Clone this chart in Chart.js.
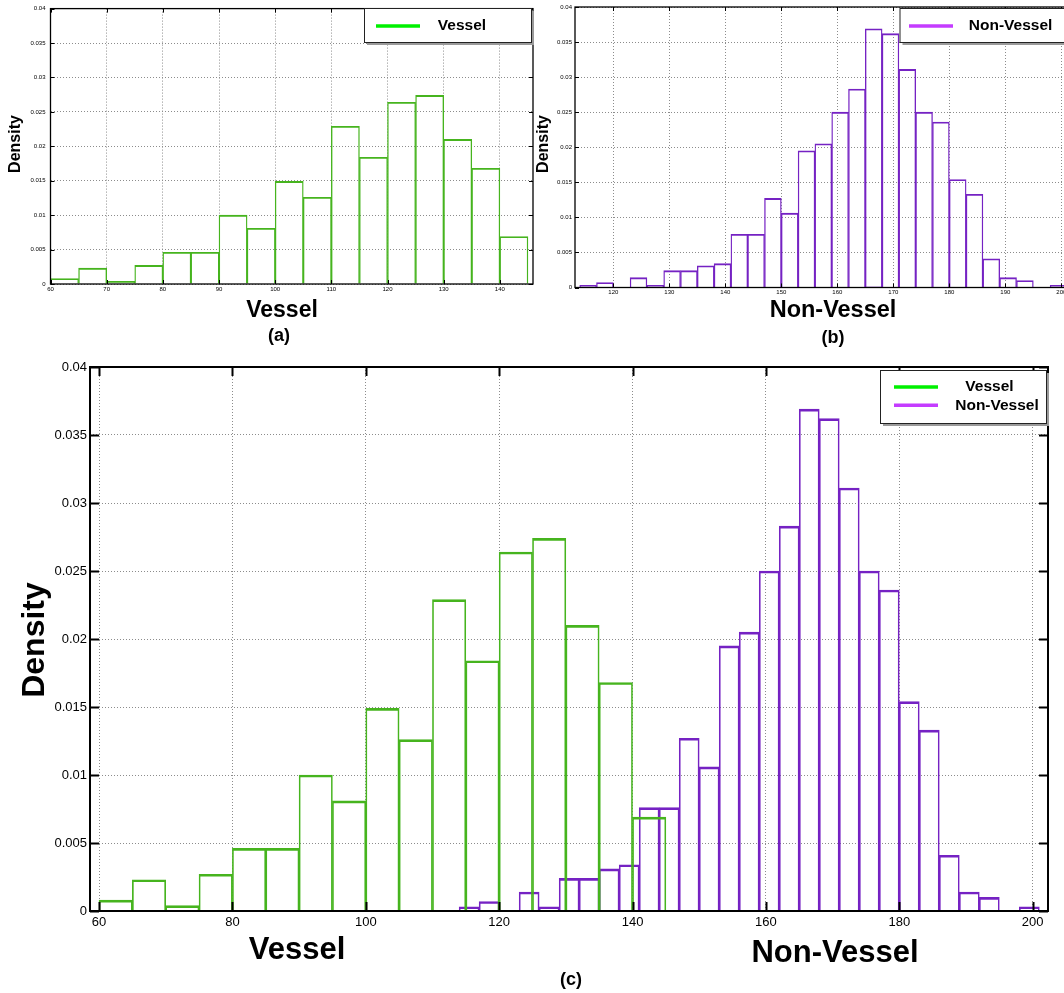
<!DOCTYPE html>
<html>
<head>
<meta charset="utf-8">
<title>Vessel / Non-Vessel density</title>
<script src="https://cdn.jsdelivr.net/npm/chart.js@4.4.1/dist/chart.umd.min.js"></script>
<style>
  html, body { margin: 0; padding: 0; background: #fff; overflow: hidden; }
  #page { position: relative; width: 1064px; height: 993px; overflow: hidden; }
  canvas { position: absolute; }
</style>
</head>
<body>
<div id="page">
  <canvas id="chartA" width="536" height="348" style="left:0;top:0"></canvas>
  <canvas id="chartB" width="545" height="348" style="left:530px;top:0"></canvas>
  <canvas id="chartC" width="1064" height="648" style="left:0;top:345px"></canvas>
</div>
<script>
// histogram data (bin start, density)
const vesselBinWidth = 5;
const vesselStarts = [60, 65, 70, 75, 80, 85, 90, 95, 100, 105, 110, 115, 120, 125, 130, 135, 140];
const vesselDensity = [0.0008, 0.0023, 0.0004, 0.0027, 0.0046, 0.0046, 0.0100, 0.0081, 0.0149, 0.0126,
                       0.0229, 0.0184, 0.0264, 0.0274, 0.0210, 0.0168, 0.0069];

const nonVesselBinWidth = 3;
const nonVesselStarts = [114, 117, 120, 123, 126, 129, 132, 135, 138, 141, 144, 147, 150, 153, 156,
                         159, 162, 165, 168, 171, 174, 177, 180, 183, 186, 189, 192, 195, 198];
const nonVesselDensity = [0.0003, 0.0007, 0, 0.0014, 0.0003, 0.0024, 0.0024, 0.0031, 0.0034, 0.0076,
                          0.0076, 0.0127, 0.0106, 0.0195, 0.0205, 0.0250, 0.0283, 0.0369, 0.0362, 0.0311,
                          0.0250, 0.0236, 0.0154, 0.0133, 0.0041, 0.0014, 0.0010, 0, 0.0003];

const yTicks = [0, 0.005, 0.01, 0.015, 0.02, 0.025, 0.03, 0.035, 0.04];
const xTicksA = [60, 70, 80, 90, 100, 110, 120, 130, 140];
const xTicksB = [120, 130, 140, 150, 160, 170, 180, 190, 200];
const xTicksC = [60, 80, 100, 120, 140, 160, 180, 200];

const FONT = '"Liberation Sans", Arial, Helvetica, sans-serif';
const GREEN = '#46b41e';
const PURPLE = '#7522c3';
const GREEN_KEY = '#00f000';
const PURPLE_KEY = '#c43bff';

function toPoints(starts, vals, w) {
  return starts.map((s, i) => ({x: s + w / 2, y: vals[i]}));
}

function xScale(min, max, ticks, fontSize, pad, h, show) {
  return {
    type: 'linear', min: min, max: max, offset: false, display: show,
    afterBuildTicks: s => { s.ticks = ticks.map(v => ({value: v})); },
    afterFit: s => { if (h) s.height = h; },
    grid: {color: '#8c8c8c', drawTicks: false, offset: false},
    border: {display: false, dash: [1, 2]},
    ticks: {autoSkip: false, maxRotation: 0, padding: pad, color: '#000',
            font: {family: FONT, size: fontSize}, callback: v => String(v)}
  };
}

function yScale(fontSize, pad, w) {
  return {
    type: 'linear', min: 0, max: 0.04,
    afterBuildTicks: s => { s.ticks = yTicks.map(v => ({value: v})); },
    afterFit: s => { s.width = w; },
    grid: {color: '#8c8c8c', drawTicks: false},
    border: {display: false, dash: [1, 2]},
    ticks: {autoSkip: false, padding: pad, color: '#000',
            font: {family: FONT, size: fontSize}, callback: v => String(+v.toFixed(4))}
  };
}

// frame, inward ticks, legend box and the text labels
function decor(cfg) {
  return {
    id: 'decor',
    afterDraw(chart) {
      const ctx = chart.ctx, a = chart.chartArea;
      const xs = chart.scales.x, ys = chart.scales.y;
      ctx.save();
      ctx.strokeStyle = '#000';
      ctx.lineWidth = cfg.tickWidth;
      ctx.beginPath();
      xs.ticks.forEach(t => {
        const p = Math.round(xs.getPixelForValue(t.value)) + 0.5;
        ctx.moveTo(p, a.bottom); ctx.lineTo(p, a.bottom - cfg.tickLen);
        ctx.moveTo(p, a.top); ctx.lineTo(p, a.top + cfg.tickLen);
      });
      ys.ticks.forEach(t => {
        const p = Math.round(ys.getPixelForValue(t.value)) + 0.5;
        ctx.moveTo(a.left, p); ctx.lineTo(a.left + cfg.tickLen, p);
        ctx.moveTo(a.right, p); ctx.lineTo(a.right - cfg.tickLen, p);
      });
      ctx.stroke();
      ctx.lineWidth = cfg.frameWidth;
      ctx.strokeRect(a.left, a.top, a.right - a.left, a.bottom - a.top);

      const L = cfg.legend;
      ctx.fillStyle = '#9a9a9a';
      ctx.fillRect(L.x + 3, L.y + 3, L.w, L.h);
      ctx.fillStyle = '#fff';
      ctx.fillRect(L.x, L.y, L.w, L.h);
      ctx.lineWidth = 1;
      ctx.strokeStyle = '#222';
      ctx.strokeRect(L.x + 0.5, L.y + 0.5, L.w, L.h);
      ctx.font = 'bold ' + L.size + 'px ' + FONT;
      ctx.textBaseline = 'middle';
      ctx.textAlign = 'center';
      L.rows.forEach(r => {
        ctx.strokeStyle = r.color;
        ctx.lineWidth = 3.5;
        ctx.beginPath();
        ctx.moveTo(L.lx0, r.y); ctx.lineTo(L.lx1, r.y);
        ctx.stroke();
        ctx.fillStyle = '#000';
        ctx.fillText(chart.data.datasets[r.ds].label, r.tx, r.y);
      });

      ctx.fillStyle = '#000';
      cfg.texts.forEach(t => {
        ctx.save();
        ctx.font = 'bold ' + t.size + 'px ' + FONT;
        ctx.translate(t.x, t.y);
        if (t.rot) ctx.rotate(-Math.PI / 2);
        ctx.fillText(t.text, 0, 0);
        ctx.restore();
      });
      ctx.restore();
    }
  };
}

const common = {
  responsive: false,
  animation: false,
  devicePixelRatio: 1,
  plugins: {legend: {display: false}, tooltip: {enabled: false}}
};

// (a) Vessel
new Chart(document.getElementById('chartA'), {
  type: 'bar',
  data: {
    datasets: [{
      label: 'Vessel',
      data: toPoints(vesselStarts, vesselDensity, vesselBinWidth),
      backgroundColor: 'rgba(0,0,0,0)',
      borderColor: GREEN,
      borderWidth: {top: 1.2, left: 0.7, right: 0.7, bottom: 0},
      barPercentage: 1, categoryPercentage: 1, grouped: false
    }]
  },
  options: Object.assign({}, common, {
    layout: {padding: {left: 0, top: 8, right: 3, bottom: 0}},
    scales: {x: xScale(60, 145.9, xTicksA, 6, 2, 64, true), y: yScale(6, 5, 50.5)}
  }),
  plugins: [decor({
    tickLen: 4, tickWidth: 1, frameWidth: 1.3,
    legend: {x: 364, y: 8, w: 167, h: 34, size: 15.5, lx0: 376, lx1: 420,
             rows: [{ds: 0, color: GREEN_KEY, y: 26, tx: 462}]},
    texts: [
      {text: 'Density', x: 15.5, y: 144, size: 16, rot: true},
      {text: 'Vessel', x: 282, y: 311, size: 23},
      {text: '(a)', x: 279, y: 336, size: 18}
    ]
  })]
});

// (b) Non-Vessel
new Chart(document.getElementById('chartB'), {
  type: 'bar',
  data: {
    datasets: [{
      label: 'Non-Vessel',
      data: toPoints(nonVesselStarts, nonVesselDensity, nonVesselBinWidth),
      backgroundColor: 'rgba(0,0,0,0)',
      borderColor: PURPLE,
      borderWidth: {top: 1.2, left: 0.7, right: 0.7, bottom: 0},
      barPercentage: 1, categoryPercentage: 1, grouped: false
    }]
  },
  options: Object.assign({}, common, {
    layout: {padding: {left: 0, top: 7, right: 5, bottom: 0}},
    scales: {x: xScale(113.16, 201.55, xTicksB, 6, 1, 60.5, true), y: yScale(6, 3, 45)}
  }),
  plugins: [decor({
    tickLen: 4, tickWidth: 1, frameWidth: 1.3,
    legend: {x: 369.5, y: 8, w: 200, h: 34, size: 15.5, lx0: 379, lx1: 423,
             rows: [{ds: 0, color: PURPLE_KEY, y: 26, tx: 480.6}]},
    texts: [
      {text: 'Density', x: 13.6, y: 144, size: 16, rot: true},
      {text: 'Non-Vessel', x: 303, y: 311, size: 23.5},
      {text: '(b)', x: 303, y: 338, size: 18}
    ]
  })]
});

// (c) both, each on its own x scale so the bin widths stay apart
new Chart(document.getElementById('chartC'), {
  type: 'bar',
  data: {
    datasets: [{
      label: 'Vessel',
      xAxisID: 'x',
      data: toPoints(vesselStarts, vesselDensity, vesselBinWidth),
      backgroundColor: 'rgba(0,0,0,0)',
      borderColor: GREEN,
      borderWidth: {top: 2, left: 1, right: 1, bottom: 0},
      barPercentage: 1, categoryPercentage: 1, grouped: false
    }, {
      label: 'Non-Vessel',
      xAxisID: 'x2',
      data: toPoints(nonVesselStarts, nonVesselDensity, nonVesselBinWidth),
      backgroundColor: 'rgba(0,0,0,0)',
      borderColor: PURPLE,
      borderWidth: {top: 2, left: 1, right: 1, bottom: 0},
      barPercentage: 1, categoryPercentage: 1, grouped: false
    }]
  },
  options: Object.assign({}, common, {
    layout: {padding: {left: 0, top: 22, right: 16, bottom: 0}},
    scales: {
      x: xScale(58.65, 202.3, xTicksC, 13, 4, 82, true),
      x2: xScale(58.65, 202.3, xTicksC, 13, 4, 0, false),
      y: yScale(13, 3, 90)
    }
  }),
  plugins: [decor({
    tickLen: 9, tickWidth: 2, frameWidth: 2,
    legend: {x: 880, y: 25, w: 166, h: 53, size: 15.5, lx0: 894, lx1: 938,
             rows: [{ds: 0, color: GREEN_KEY, y: 42, tx: 989.5},
                    {ds: 1, color: PURPLE_KEY, y: 60.3, tx: 997}]},
    texts: [
      {text: 'Density', x: 35, y: 295, size: 32, rot: true},
      {text: 'Vessel', x: 297, y: 605, size: 31},
      {text: 'Non-Vessel', x: 835, y: 608, size: 31},
      {text: '(c)', x: 571, y: 635, size: 18}
    ]
  })]
});
</script>
</body>
</html>
